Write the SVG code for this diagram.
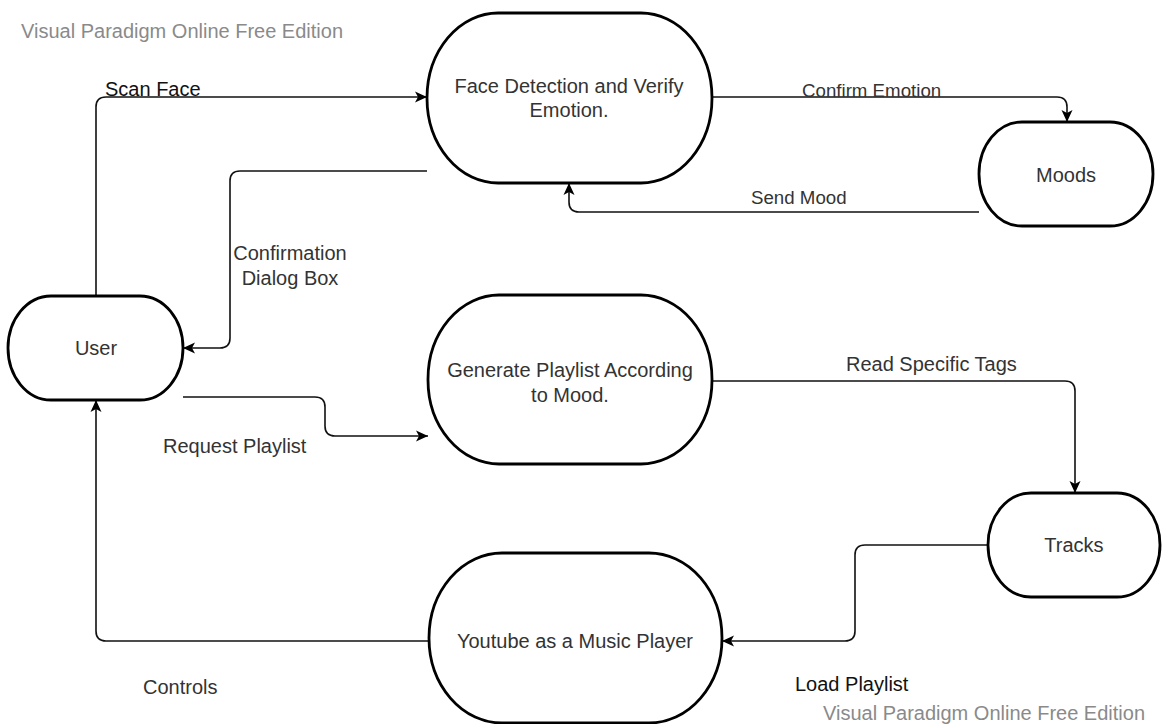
<svg xmlns="http://www.w3.org/2000/svg" width="1165" height="724" viewBox="0 0 1165 724">
<style>
.node{fill:#fff;stroke:#000;stroke-width:2.8}
.conn{fill:none;stroke:#111;stroke-width:1.6}
.nl{font-family:"Liberation Sans",Arial,sans-serif;font-size:20px;fill:#333;text-anchor:middle}
.el{font-family:"Liberation Sans",Arial,sans-serif;font-size:20px;fill:#333}
.wm{font-family:"Liberation Sans",Arial,sans-serif;font-size:20px;fill:#8a8a8a}
</style>
<defs>
<marker id="arr" markerUnits="userSpaceOnUse" markerWidth="14" markerHeight="14" viewBox="0 0 14 14" refX="13" refY="7" orient="auto">
<path d="M1,1.5 L13,7 L1,12.5 L4,7 z" fill="#000"/>
</marker>
</defs>
<rect width="1165" height="724" fill="#fff"/>
<text class="wm" x="21" y="38">Visual Paradigm Online Free Edition</text>
<text class="wm" x="823" y="720">Visual Paradigm Online Free Edition</text>

<g id="connectors">
<path class="conn" d="M96,296 L96,107 Q96,97 106,97 L427,97" marker-end="url(#arr)"/>
<path class="conn" d="M712,97 L1057,97 Q1067,97 1067,107 L1067,122" marker-end="url(#arr)"/>
<path class="conn" d="M979,212 L579,212 Q569,212 569,202 L569,183" marker-end="url(#arr)"/>
<path class="conn" d="M427,171 L240,171 Q230,171 230,181 L230,338 Q230,348 220,348 L183,348" marker-end="url(#arr)"/>
<path class="conn" d="M183,397 L315,397 Q325,397 325,407 L325,426 Q325,436 335,436 L428,436" marker-end="url(#arr)"/>
<path class="conn" d="M712,381 L1065,381 Q1075,381 1075,391 L1075,493" marker-end="url(#arr)"/>
<path class="conn" d="M988,545 L865,545 Q855,545 855,555 L855,631 Q855,641 845,641 L722,641" marker-end="url(#arr)"/>
<path class="conn" d="M429,641 L106,641 Q96,641 96,631 L96,400" marker-end="url(#arr)"/>
<text class="el" x="105" y="96" style="fill:#111">Scan Face</text>
<text class="el" x="802" y="97" style="font-size:18.7px">Confirm Emotion</text>
<text class="el" x="751" y="204" style="font-size:18.7px">Send Mood</text>
<text class="el" x="290" y="260" text-anchor="middle">Confirmation</text>
<text class="el" x="290" y="285" text-anchor="middle">Dialog Box</text>
<text class="el" x="163" y="453">Request Playlist</text>
<text class="el" x="846" y="371">Read Specific Tags</text>
<text class="el" x="795" y="691" style="fill:#111">Load Playlist</text>
<text class="el" x="143" y="694">Controls</text>
</g>

<g id="face">
<rect class="node" x="427" y="13" width="285" height="170" rx="71" ry="85"/>
<text class="nl" x="569" y="93">Face Detection and Verify</text>
<text class="nl" x="569" y="117">Emotion.</text>
</g>
<g id="moods">
<rect class="node" x="979" y="122" width="174" height="104" rx="43" ry="52"/>
<text class="nl" x="1066" y="182">Moods</text>
</g>
<g id="user">
<rect class="node" x="8" y="296" width="175" height="104" rx="43" ry="52"/>
<text class="nl" x="96" y="355">User</text>
</g>
<g id="generate">
<rect class="node" x="428" y="295" width="284" height="169" rx="71" ry="84"/>
<text class="nl" x="570" y="377">Generate Playlist According</text>
<text class="nl" x="570" y="402">to Mood.</text>
</g>
<g id="tracks">
<rect class="node" x="988" y="493" width="172" height="104" rx="43" ry="52"/>
<text class="nl" x="1074" y="552">Tracks</text>
</g>
<g id="youtube">
<rect class="node" x="429" y="553" width="293" height="170" rx="73" ry="85"/>
<text class="nl" x="575" y="648">Youtube as a Music Player</text>
</g>
</svg>
